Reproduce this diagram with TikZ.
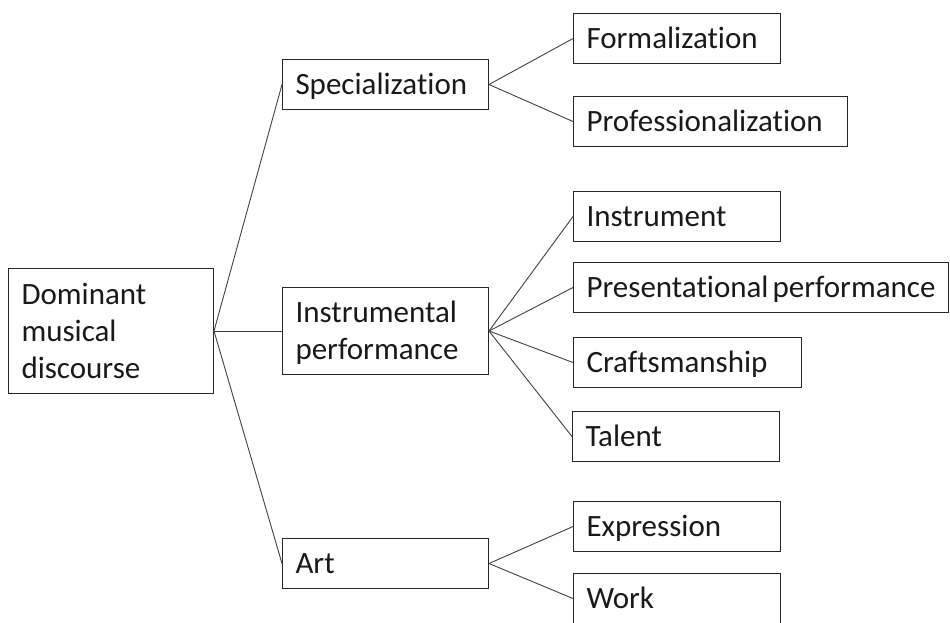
\documentclass[tikz,border=0pt]{standalone}
\usepackage{
	fontspec,			% Fonts
	tikz
}
\setmainfont{Carlito}[Ligatures=NoCommon]

\begin{document}
\begin{tikzpicture}[x=1pt,y=-1pt,
		box/.style={draw=black!85, line width=1pt, anchor=north west, align=left,
			inner xsep=13pt, inner ysep=0pt, minimum height=50pt,
			text height=20pt, text depth=0pt, text=black!90,
			font=\fontsize{31}{37}\selectfont},
		link/.style={draw=black!75, line width=0.9pt}]
		\useasboundingbox (0,0) rectangle (950,622);
		\clip (0,0) rectangle (950,622);
		% root
		\node[box, text width=179pt, minimum height=125pt, text depth=74pt] (dominant) at (8,268) {Dominant\\musical\\discourse};
		% second level
		\node[box, text width=180pt] (special) at (282,59) {Specialization};
		\node[box, text width=180pt, minimum height=87pt, text depth=37pt] (instperf) at (282,287) {Instrumental\\performance};
		\node[box, text width=180pt] (art) at (282,538) {Art};
		% third level
		\node[box, text width=181pt] (formal) at (573,13) {Formalization};
		\node[box, text width=248pt] (profes) at (573,96) {Professionalization};
		\node[box, text width=181pt] (instr) at (573,191) {Instrument};
		\node[box, text width=349pt] (present) at (573,262) {\mbox{Presentational\hspace{4pt}performance}};
		\node[box, text width=202pt] (craft) at (573,337) {Craftsmanship};
		\node[box, text width=181pt] (talent) at (572,411) {Talent};
		\node[box, text width=181pt] (express) at (573,501) {Expression};
		\node[box, text width=181pt] (work) at (573,573) {Work};
		% connectors
		\foreach \c in {special,instperf,art}
			\draw[link] (dominant.east) -- (\c.west);
		\foreach \c in {formal,profes}
			\draw[link] (special.east) -- (\c.west);
		\foreach \c in {instr,present,craft,talent}
			\draw[link] (instperf.east) -- (\c.west);
		\foreach \c in {express,work}
			\draw[link] (art.east) -- (\c.west);
	\end{tikzpicture}
\end{document}
